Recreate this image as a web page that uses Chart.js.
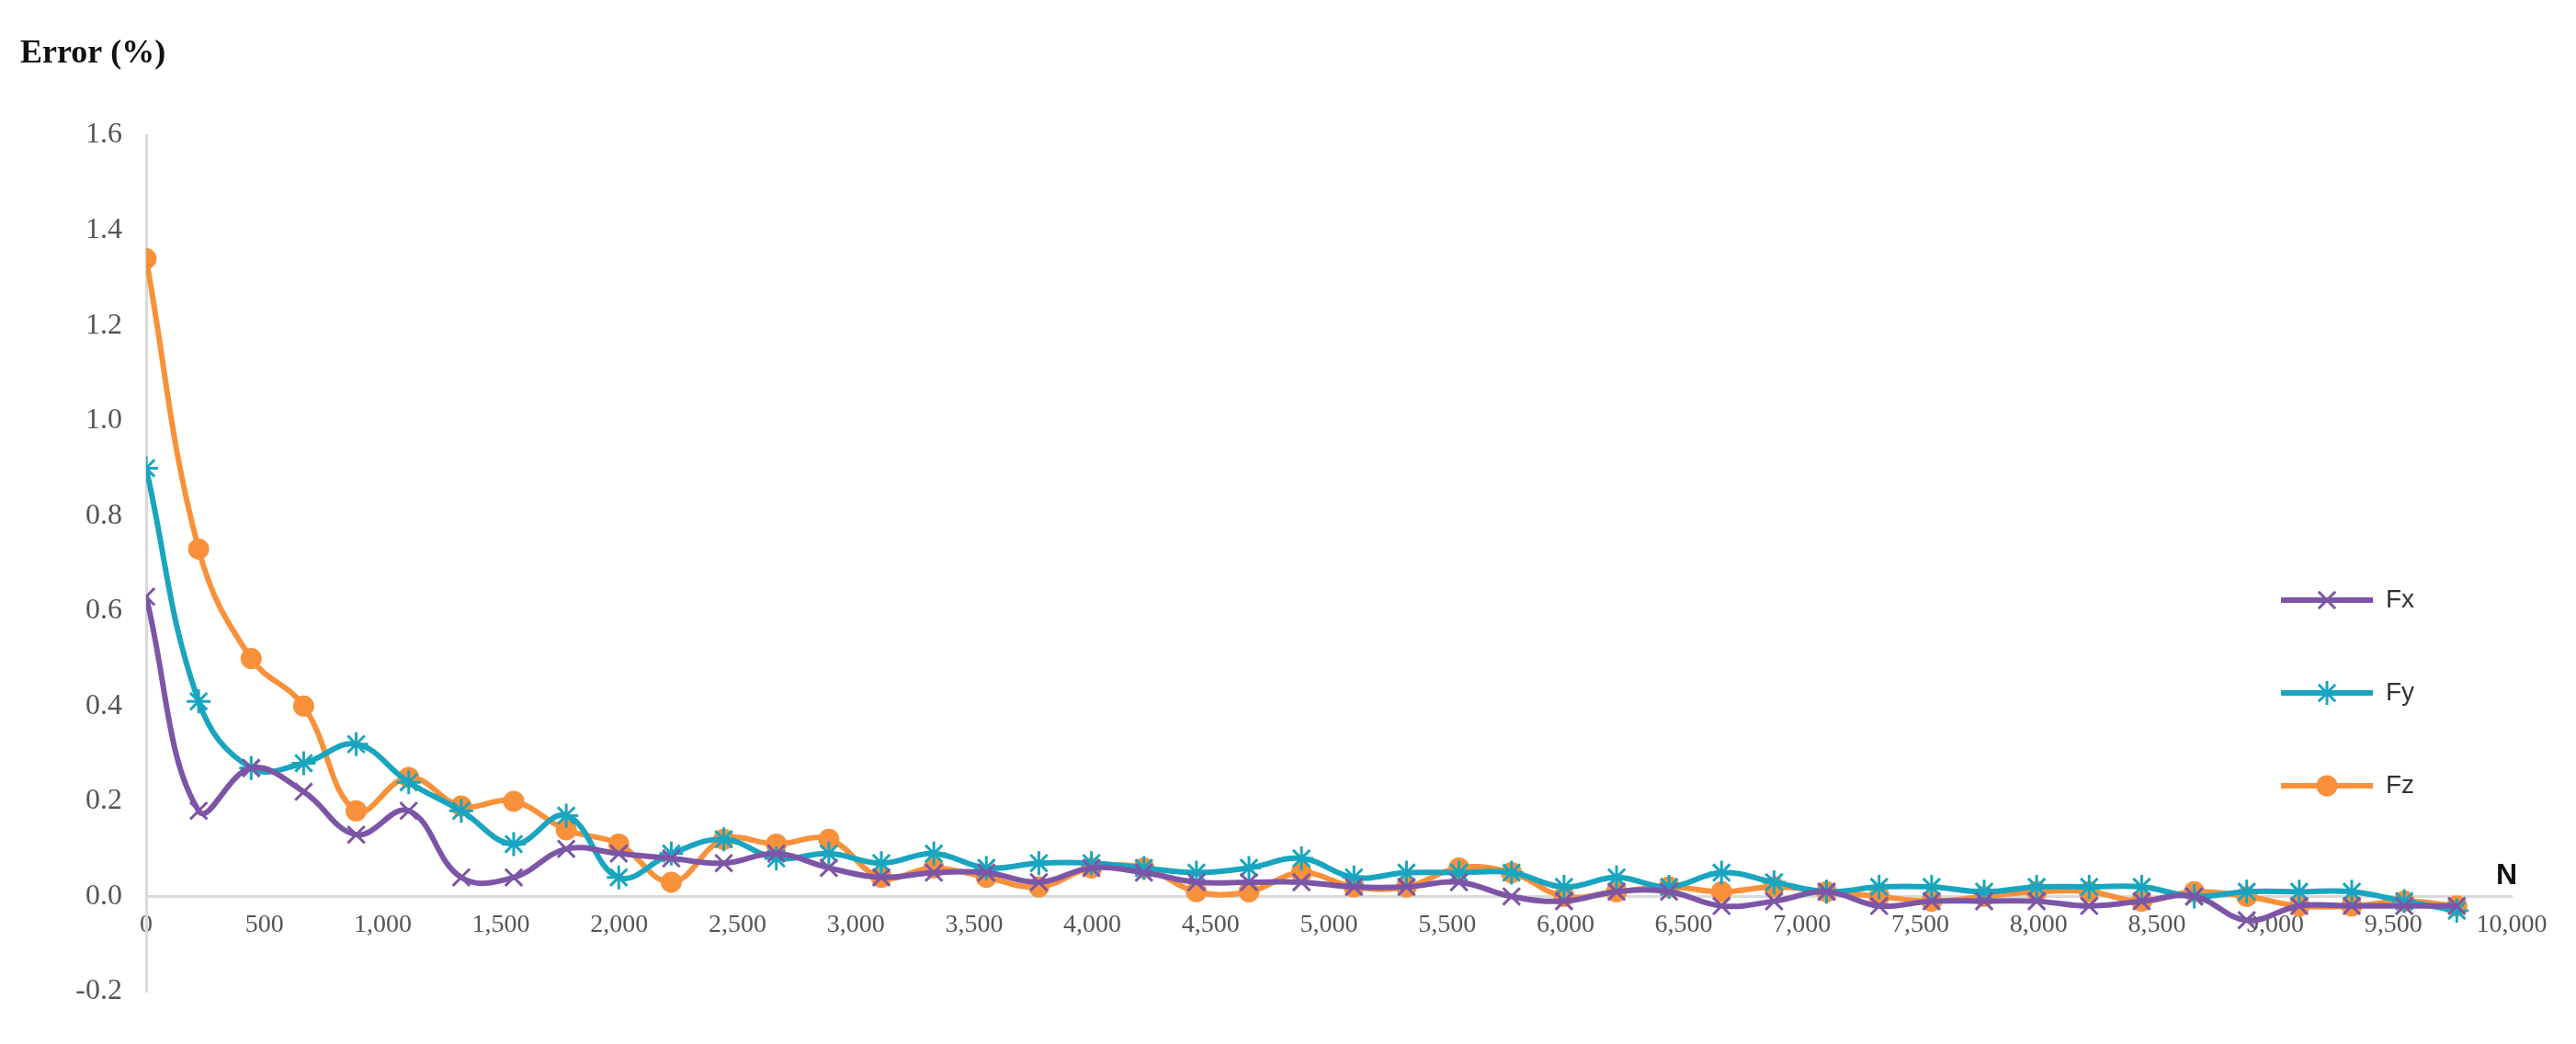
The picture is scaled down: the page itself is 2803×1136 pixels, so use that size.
<!DOCTYPE html>
<html>
<head>
<meta charset="utf-8">
<script src="https://cdn.jsdelivr.net/npm/chart.js@4.4.1/dist/chart.umd.min.js"></script>
<style>
  html, body { margin: 0; padding: 0; background: #fff; }
  #wrap { width: 2803px; height: 1136px; }
</style>
</head>
<body>
<div id="wrap"><canvas id="errChart"></canvas></div>
<script>
const step = 222;
const fx = [0.63, 0.18, 0.27, 0.22, 0.13, 0.18, 0.04, 0.04, 0.10, 0.09, 0.08, 0.07, 0.09, 0.06, 0.04,
  0.05, 0.05, 0.03, 0.06, 0.05, 0.03, 0.03, 0.03, 0.02, 0.02, 0.03, 0.00, -0.01, 0.01, 0.01,
  -0.02, -0.01, 0.01, -0.02, -0.01, -0.01, -0.01, -0.02, -0.01, 0.00, -0.05, -0.02, -0.02, -0.02, -0.02];
const fy = [0.90, 0.41, 0.27, 0.28, 0.32, 0.24, 0.18, 0.11, 0.17, 0.04, 0.09, 0.12, 0.08, 0.09, 0.07,
  0.09, 0.06, 0.07, 0.07, 0.06, 0.05, 0.06, 0.08, 0.04, 0.05, 0.05, 0.05, 0.02, 0.04, 0.02,
  0.05, 0.03, 0.01, 0.02, 0.02, 0.01, 0.02, 0.02, 0.02, 0.00, 0.01, 0.01, 0.01, -0.01, -0.03];
const fz = [1.34, 0.73, 0.50, 0.40, 0.18, 0.25, 0.19, 0.20, 0.14, 0.11, 0.03, 0.12, 0.11, 0.12, 0.04,
  0.06, 0.04, 0.02, 0.06, 0.06, 0.01, 0.01, 0.05, 0.02, 0.02, 0.06, 0.05, 0.00, 0.01, 0.02,
  0.01, 0.02, 0.01, 0.00, -0.01, 0.00, 0.01, 0.01, -0.01, 0.01, 0.00, -0.02, -0.02, -0.01, -0.02];
const xTicks = [0, 500, 1000, 1500, 2000, 2500, 3000, 3500, 4000, 4500, 5000,
  5500, 6000, 6500, 7000, 7500, 8000, 8500, 9000, 9500, 10000];
const yTicks = [-0.2, 0, 0.2, 0.4, 0.6, 0.8, 1.0, 1.2, 1.4, 1.6];

const series = [
  { label: "Fx", values: fx, color: "#7d55a6", style: "crossRot", radius: 13 },
  { label: "Fy", values: fy, color: "#19a5c0", style: "star", radius: 13 },
  { label: "Fz", values: fz, color: "#f8913a", style: "circle", radius: 10 }
];

const serif = "'Liberation Serif', 'DejaVu Serif', serif";
const sans = "'Liberation Sans', 'DejaVu Sans', sans-serif";

// title, "N" marker and legend drawn on top of the chart
const extras = {
  id: "extras",
  afterDraw(chart) {
    const ctx = chart.ctx;
    ctx.save();
    ctx.fillStyle = "#111";
    ctx.font = "bold 36px " + serif;
    ctx.textBaseline = "alphabetic";
    ctx.fillText("Error (%)", 22, 68);
    ctx.font = "bold 32px " + sans;
    ctx.fillText("N", 2716, 962);
    series.forEach((s, i) => {
      const y = 653 + i * 101;
      ctx.strokeStyle = s.color;
      ctx.fillStyle = s.color;
      ctx.lineWidth = 6;
      ctx.beginPath();
      ctx.moveTo(2482, y);
      ctx.lineTo(2582, y);
      ctx.stroke();
      ctx.lineWidth = 3;
      Chart.helpers.drawPoint(ctx, { pointStyle: s.style, radius: s.radius, rotation: 0, borderWidth: 3 }, 2532, y);
      ctx.fillStyle = "#333";
      ctx.font = "28px " + sans;
      ctx.textBaseline = "middle";
      ctx.fillText(s.label, 2596, y);
    });
    ctx.restore();
  }
};

new Chart(document.getElementById("errChart"), {
  type: "line",
  data: {
    datasets: series.map(s => ({
      label: s.label,
      data: s.values.map((v, i) => ({ x: i * step, y: v })),
      borderColor: s.color,
      backgroundColor: s.color,
      borderWidth: 6,
      tension: 0.4,
      pointStyle: s.style,
      pointRadius: s.radius,
      pointBorderWidth: 3
    }))
  },
  options: {
    responsive: true,
    maintainAspectRatio: false,
    animation: false,
    layout: { padding: { top: 147, bottom: 57, right: 70, left: 0 } },
    plugins: { legend: { display: false }, tooltip: { enabled: false } },
    scales: {
      x: {
        type: "linear",
        position: { y: 0 },
        min: 0,
        max: 10000,
        afterBuildTicks: axis => { axis.ticks = xTicks.map(v => ({ value: v })); },
        grid: { display: false, drawTicks: false },
        border: { color: "#d9d9d9", width: 3 },
        ticks: {
          color: "#555",
          font: { family: serif, size: 28 },
          padding: 14,
          maxRotation: 0,
          autoSkip: false,
          callback: v => v.toLocaleString("en-US")
        }
      },
      y: {
        min: -0.2,
        max: 1.6,
        afterBuildTicks: axis => { axis.ticks = yTicks.map(v => ({ value: v })); },
        afterFit: axis => { axis.width = 159; },
        grid: { display: false, drawTicks: false },
        border: { color: "#d9d9d9", width: 3 },
        ticks: {
          color: "#555",
          font: { family: serif, size: 32 },
          padding: 26,
          callback: v => v.toFixed(1)
        }
      }
    }
  },
  plugins: [extras]
});
</script>
</body>
</html>
